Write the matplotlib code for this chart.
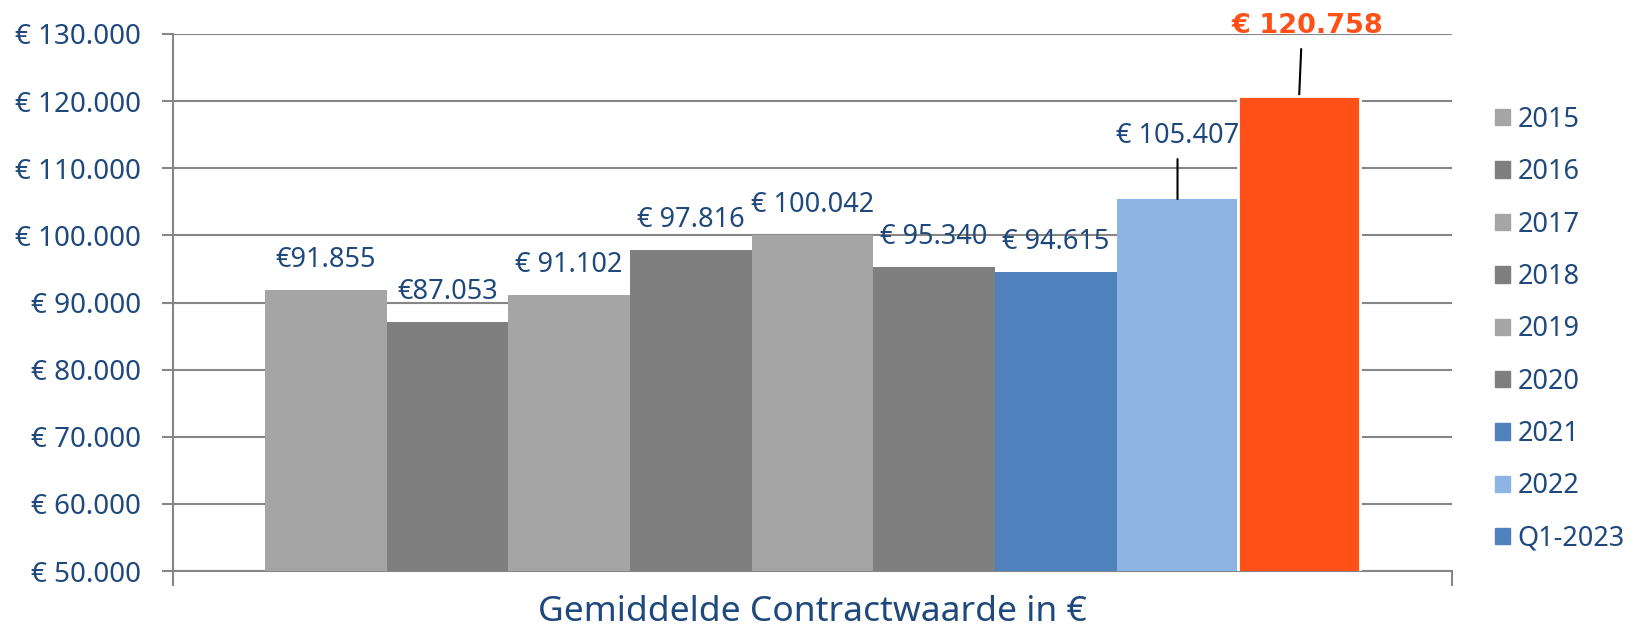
import numpy as np
import matplotlib.pyplot as plt
from matplotlib.patches import Patch

####################################################################################################
series = ['2015', '2016', '2017', '2018', '2019', '2020', '2021', '2022', 'Q1-2023']
values = [91855, 87053, 91102, 97816, 100042, 95340, 94615, 105407, 120758]
labels = ['€91.855', '€87.053', '€ 91.102', '€ 97.816', '€ 100.042',
          '€ 95.340', '€ 94.615', '€ 105.407', '€ 120.758']
yticks = [50000, 60000, 70000, 80000, 90000, 100000, 110000, 120000, 130000]
ytick_labels = ['€ 50.000', '€ 60.000', '€ 70.000', '€ 80.000', '€ 90.000',
                '€ 100.000', '€ 110.000', '€ 120.000', '€ 130.000']
category = 'Gemiddelde Contractwaarde in €'

legend_colors = ['#A5A5A5', '#7F7F7F', '#A5A5A5', '#7F7F7F', '#A5A5A5',
                 '#7F7F7F', '#4F81BD', '#8EB4E3', '#4F81BD']
bar_colors = legend_colors[:-1] + ['#FF5117']
####################################################################################################

text_col = '#1F497D'
grid_col = '#868686'
plt.rcParams['font.family'] = ['Noto Sans', 'DejaVu Sans']

fig = plt.figure(figsize=(16.38, 6.33), dpi=100)
ax = fig.add_axes([173/1638, 62/633, (1452-173)/1638, (571-34)/633])

x = np.arange(len(values))
gap = 0.756
ax.bar(x[:-1], values[:-1], width=1.0, color=bar_colors[:-1], zorder=3)
# last bar gets a white rim
ax.bar(x[-1], values[-1], width=1.0, color=bar_colors[-1], edgecolor='white',
       linewidth=2, zorder=4)

ax.set_xlim(-0.5 - gap, len(values) - 0.5 + gap)
ax.set_ylim(50000, 130000)
ax.set_yticks(yticks)
ax.set_yticklabels(ytick_labels, color=text_col, fontsize=20)
ax.yaxis.grid(True, color=grid_col, linewidth=1.5, zorder=0)
ax.tick_params(axis='y', length=8, width=1.5, color=grid_col, pad=15)

ax.set_xticks([-0.5 - gap, len(values) - 0.5 + gap])
ax.set_xticklabels(['', ''])
ax.tick_params(axis='x', length=11, width=1.5, color=grid_col)

for s in ['top', 'right']:
    ax.spines[s].set_visible(False)
for s in ['left', 'bottom']:
    ax.spines[s].set_color(grid_col)
    ax.spines[s].set_linewidth(1.5)

fig.text(812/1638, 1 - 612/633, category, color=text_col, fontsize=25.5,
         ha='center', va='center')

px = 72 / 100  # pixels -> points
for i in range(7):
    ax.annotate(labels[i], (x[i], values[i]), xytext=(0, 30*px), textcoords='offset points',
                ha='center', va='center', color=text_col, fontsize=19.5, zorder=5)

# 2022 with leader line
ax.annotate(labels[7], (x[7], values[7]), xytext=(0, 63*px), textcoords='offset points',
            ha='center', va='center', color=text_col, fontsize=19.5, zorder=5)
ax.annotate('', (x[7], values[7]), xytext=(0, 40*px), textcoords='offset points',
            arrowprops=dict(arrowstyle='-', color='black', lw=1.5, shrinkA=0, shrinkB=0))

# Q1-2023 highlighted
ax.annotate(labels[8], (x[8], values[8]), xytext=(8*px, 70*px), textcoords='offset points',
            ha='center', va='center', color='#FF5117', fontsize=19.5, fontweight='bold',
            family='DejaVu Sans', zorder=5)
ax.annotate('', (x[8], values[8]), xytext=(2*px, 47*px), textcoords='offset points',
            arrowprops=dict(arrowstyle='-', color='black', lw=1.5, shrinkA=0, shrinkB=0))

handles = [Patch(color=c, label=s) for c, s in zip(legend_colors, series)]
leg = fig.legend(handles=handles, loc='upper left', bbox_to_anchor=(1484/1638, 1 - 95/633),
                 frameon=False, fontsize=19.5, handlelength=0.55, handleheight=0.55,
                 handletextpad=0.3, labelspacing=0.9, borderaxespad=0)
for t in leg.get_texts():
    t.set_color(text_col)

fig.savefig('out.png', dpi=100)
